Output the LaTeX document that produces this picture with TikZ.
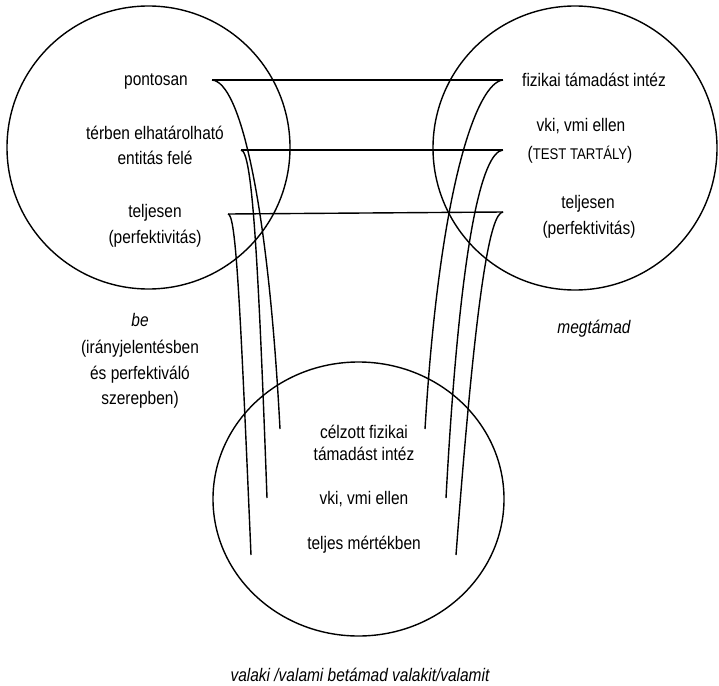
\documentclass[tikz,border=0pt]{standalone}
\usepackage{fontspec}
\setmainfont{Liberation Sans}[FakeStretch=0.85]
\usetikzlibrary{shapes.geometric}
\begin{document}
\begin{tikzpicture}[x=1pt, y=-1pt,
  lbl/.style={font=\fontsize{18.2}{22}\selectfont, inner sep=0pt, anchor=base},
  itlbl/.style={lbl, font=\fontsize{18.2}{22}\selectfont\itshape},
  ring/.style={draw, line width=1.4pt},
  link/.style={draw, line width=1.4pt}]
\useasboundingbox (0,0) rectangle (719,685);

% the three domains
\node[ring, circle, minimum size=283pt, inner sep=0pt] (srcA) at (148.5,147.5) {};
\node[ring, circle, minimum size=284pt, inner sep=0pt] (srcB) at (575,148) {};
\node[ring, ellipse, minimum width=291pt, minimum height=274pt, inner sep=0pt] (blend) at (358.5,499) {};

% left domain: be
\node[lbl] (pont) at (156,85) {pontosan};
\node[lbl] (terb) at (155,139) {térben elhatárolható};
\node[lbl] (enti) at (155,164) {entitás felé};
\node[lbl] (telA) at (155,217) {teljesen};
\node[lbl] (perA) at (155,243) {(perfektivitás)};
\node[itlbl] (be) at (140,326) {be};
\node[lbl] (iran) at (140,353) {(irányjelentésben};
\node[lbl] (espf) at (140,379) {és perfektiváló};
\node[lbl] (szer) at (140,404) {szerepben)};

% right domain: megtámad
\node[lbl] (fiz) at (594,86) {fizikai támadást intéz};
\node[lbl] (vkiB) at (581,131) {vki, vmi ellen};
\node[lbl] (test) at (580,159) {(\fontsize{15.5}{18}\selectfont TEST TARTÁLY\fontsize{18.2}{22}\selectfont)};
\node[lbl] (telB) at (588,208) {teljesen};
\node[lbl] (perB) at (589,234) {(perfektivitás)};
\node[itlbl] (megt) at (594,333) {megtámad};

% blended domain
\node[lbl] (celz) at (364,438) {célzott fizikai};
\node[lbl] (tama) at (364,460) {támadást intéz};
\node[lbl] (vkiC) at (364,504) {vki, vmi ellen};
\node[lbl] (telC) at (364,549) {teljes mértékben};
\node[itlbl] (whole) at (360,681) {valaki /valami betámad valakit/valamit};

% correspondence lines between the input domains
\coordinate (a1) at (212,80);  \coordinate (b1) at (503,80);
\coordinate (a2) at (241,150); \coordinate (b2) at (503,150);
\coordinate (a3) at (228,214); \coordinate (b3) at (503,212);
\draw[link] (a1) -- (b1);
\draw[link] (a2) -- (b2);
\draw[link] (a3) -- (b3);

% projections into the blend
\coordinate (c1) at (280,429); \coordinate (d1) at (425,429);
\coordinate (c2) at (267,498); \coordinate (d2) at (446,498);
\coordinate (c3) at (251,555); \coordinate (d3) at (456,555);
\draw[link] (a1) .. controls (240,82) and (268,200) .. (c1);
\draw[link] (a2) .. controls (252,151) and (258,250) .. (c2);
\draw[link] (a3) .. controls (236,214) and (240,300) .. (c3);
\draw[link] (b1) .. controls (478,82) and (440,180) .. (d1);
\draw[link] (b2) .. controls (482,152) and (460,240) .. (d2);
\draw[link] (b3) .. controls (490,213) and (476,290) .. (d3);
\end{tikzpicture}
\end{document}
